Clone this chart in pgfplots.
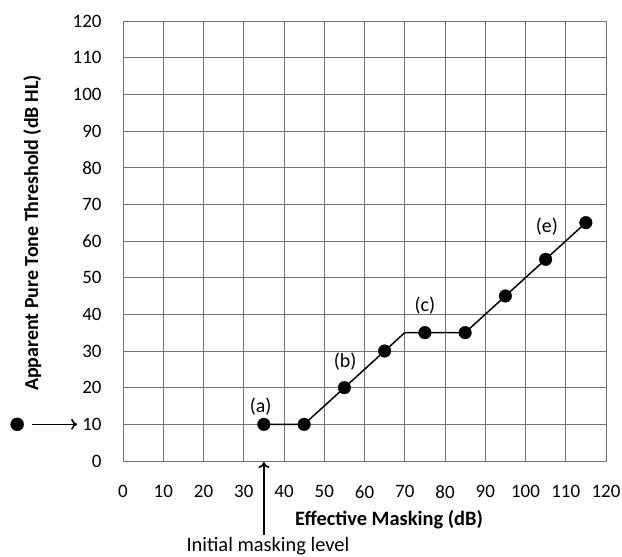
\documentclass[border=0pt]{standalone}
\usepackage{pgfplots}
\pgfplotsset{compat=1.18}
\usetikzlibrary{arrows.meta}
\usepackage{fontspec}
\setmainfont{Carlito}
\begin{document}
\fontsize{19}{22}\selectfont
\begin{tikzpicture}
\useasboundingbox (-123bp,-96bp) rectangle (499bp,461bp);
\begin{axis}[
  scale only axis, width=483bp, height=440bp,
  xmin=0, xmax=120, ymin=0, ymax=120,
  xtick={0,10,...,120}, ytick={0,10,...,120},
  grid=major, major grid style={draw=black!55, line width=0.9pt},
  axis line style={draw=black!55, line width=0.9pt},
  major tick length=0pt,
  /pgf/number format/assume math mode=true,
  ticklabel style={font=\fontsize{19}{22}\selectfont},
  xticklabel shift=18bp,
  yticklabel shift=15bp,
  xlabel={\textbf{Effective Masking (dB)}},
  ylabel={\textbf{Apparent Pure Tone Threshold (dB HL)}},
  xlabel style={font=\fontsize{20.5}{23}\selectfont, at={(axis description cs:0.551,0)}, anchor=center, yshift=-59bp},
  ylabel style={font=\fontsize{20}{23}\selectfont, at={(axis description cs:-0.188,0.518)}, anchor=center},
  clip=false,
]
\addplot[black, line width=1.5pt] coordinates {(35,10) (45,10) (70,35) (85,35) (115,65)};
\addplot[only marks, mark=*, mark size=6.3bp, black] coordinates {
(35,10) (45,10) (55,20) (65,30) (75,35) (85,35) (95,45) (105,55) (115,65)};
\addplot[only marks, mark=*, mark size=6.5bp, black] coordinates {(-26.3,10)};
\draw[line width=1.6pt, -{To[length=6bp,width=11bp]}] (axis cs:-22.6,10) -- (axis cs:-11.4,10);
\draw[line width=1.6pt, -{To[length=6bp,width=11bp]}] (axis cs:35,-20.2) -- (axis cs:35,-0.3);
\node[font=\fontsize{20.5}{23}\selectfont] at (axis cs:36,-23.2) {Initial masking level};
\node[font=\fontsize{20}{23}\selectfont] at (axis cs:34.2,14.8) {(a)};
\node[font=\fontsize{20}{23}\selectfont] at (axis cs:55.2,27) {(b)};
\node[font=\fontsize{20}{23}\selectfont] at (axis cs:75,42.3) {(c)};
\node[font=\fontsize{20}{23}\selectfont] at (axis cs:105.3,63.8) {(e)};
\end{axis}
\end{tikzpicture}
\end{document}
